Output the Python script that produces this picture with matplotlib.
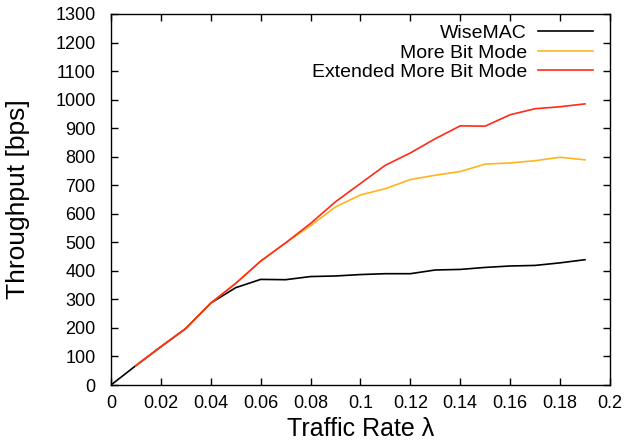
import matplotlib
matplotlib.use("Agg")
import matplotlib.pyplot as plt

plt.rcParams["font.family"] = ["Liberation Sans", "DejaVu Sans"]

rate = [0.0, 0.01, 0.02, 0.03, 0.04, 0.05, 0.06, 0.07, 0.08, 0.09,
        0.10, 0.11, 0.12, 0.13, 0.14, 0.15, 0.16, 0.17, 0.18, 0.19]
wisemac = [0, 68, 134, 198, 287, 341, 370, 369, 380, 382,
           387, 390, 390, 403, 405, 412, 417, 419, 428, 439]
# the two More Bit curves start at 0.01
rate_mb = rate[1:]
more_bit = [68, 134, 198, 287, 356, 434, 498, 558, 624,
            666, 688, 720, 735, 748, 774, 778, 786, 798, 789]
ext_more_bit = [68, 134, 198, 287, 356, 434, 498, 566, 642,
                706, 770, 813, 863, 908, 907, 947, 968, 975, 985]

x_ticks = [0, 0.02, 0.04, 0.06, 0.08, 0.1, 0.12, 0.14, 0.16, 0.18, 0.2]
x_labels = ["0", "0.02", "0.04", "0.06", "0.08", "0.1", "0.12", "0.14", "0.16", "0.18", "0.2"]

fig = plt.figure(figsize=(6.34, 4.47), dpi=100)
ax = fig.add_axes([0.175, 0.1387, 0.787, 0.83])

ax.plot(rate, wisemac, color="black", lw=1.2, label="WiseMAC")
ax.plot(rate_mb, more_bit, color="#FFB41E", lw=1.2, label="More Bit Mode")
ax.plot(rate_mb, ext_more_bit, color="#FF2A1A", lw=1.2, label="Extended More Bit Mode")

ax.set_xlim(0, 0.2)
ax.set_ylim(0, 1300)
ax.set_xticks(x_ticks)
ax.set_xticklabels(x_labels)
ax.set_yticks(range(0, 1301, 100))
ax.tick_params(direction="in", length=5, width=1, top=True, right=True,
               labelsize=13, pad=7)
ax.tick_params(axis="y", pad=11)
for s in ax.spines.values():
    s.set_linewidth(1)

ax.set_xlabel("Traffic Rate λ", fontsize=18, labelpad=4)
ax.set_ylabel("Throughput [bps]", fontsize=19, labelpad=18)

ax.legend(loc="upper right", frameon=False, markerfirst=False, fontsize=14,
          handlelength=2.85, handletextpad=0.55, labelspacing=0.1,
          borderaxespad=0, borderpad=0, bbox_to_anchor=(0.966, 0.972))

fig.savefig("out.png", dpi=100)
